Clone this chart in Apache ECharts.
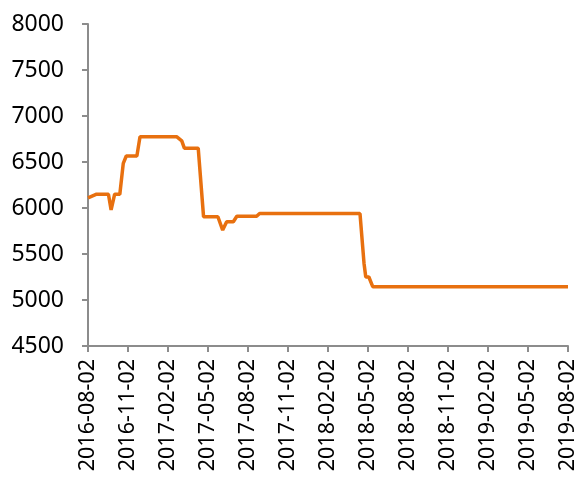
<!DOCTYPE html>
<html><head><meta charset="utf-8">
<script src="https://cdn.jsdelivr.net/npm/echarts@6/dist/echarts.min.js"></script>
<style>html,body{margin:0;padding:0;background:#fff}#c{width:581px;height:494px}</style>
</head><body><div id="c"></div>
<script>
var dates = ['2016-08-02','2016-08-22','2016-09-18','2016-09-24','2016-10-02','2016-10-14','2016-10-22','2016-10-29','2016-11-22','2016-11-29','2017-02-20','2017-03-03','2017-03-09','2017-04-10','2017-04-22','2017-05-25','2017-06-05','2017-06-14','2017-06-29','2017-07-07','2017-08-22','2017-08-29','2018-04-14','2018-04-23','2018-04-27','2018-05-04','2018-05-13','2019-08-02'];
var values = [6110,6150,6150,5980,6150,6150,6485,6565,6565,6775,6775,6730,6650,6650,5905,5905,5760,5850,5850,5910,5910,5940,5940,5400,5250,5250,5145,5145];
var xTickLabels = ['2016-08-02','2016-11-02','2017-02-02','2017-05-02','2017-08-02','2017-11-02','2018-02-02','2018-05-02','2018-08-02','2018-11-02','2019-02-02','2019-05-02','2019-08-02'];
var yMin = 4500, yMax = 8000, yStep = 500;

function monthIndex(s){
  var p = s.split('-').map(Number);
  var dim = new Date(p[0], p[1], 0).getDate();
  return (p[0]-2016)*12 + (p[1]-8) + (p[2]-2)/dim;
}
var data = dates.map(function(d,i){ return [monthIndex(d), values[i]]; });

var axisCol = '#8c8c8c';
var chart = echarts.init(document.getElementById('c'));
chart.setOption({
  animation:false,
  grid:{left:88,right:13,top:24,bottom:148,containLabel:false},
  xAxis:{type:'value',min:0,max:36,interval:3,
    axisLine:{show:true,onZero:false,lineStyle:{color:axisCol,width:2}},
    axisTick:{show:true,length:6,lineStyle:{color:axisCol,width:2}},
    splitLine:{show:false},
    axisLabel:{rotate:90,margin:13,fontSize:21.5,color:'#000',fontFamily:'Noto Sans',
      formatter:function(v){ return xTickLabels[Math.round(v/3)] || ''; }}
  },
  yAxis:{type:'value',min:yMin,max:yMax,interval:yStep,
    axisLine:{show:true,lineStyle:{color:axisCol,width:2}},
    axisTick:{show:true,length:6,lineStyle:{color:axisCol,width:2}},
    splitLine:{show:false},
    axisLabel:{margin:24,fontSize:23,color:'#000',fontFamily:'Noto Sans',
      formatter:function(v){ return String(v); }}
  },
  series:[{type:'line',data:data,showSymbol:false,
    lineStyle:{color:'#E8700F',width:3.5},itemStyle:{color:'#E8700F'}}]
});
</script></body></html>
